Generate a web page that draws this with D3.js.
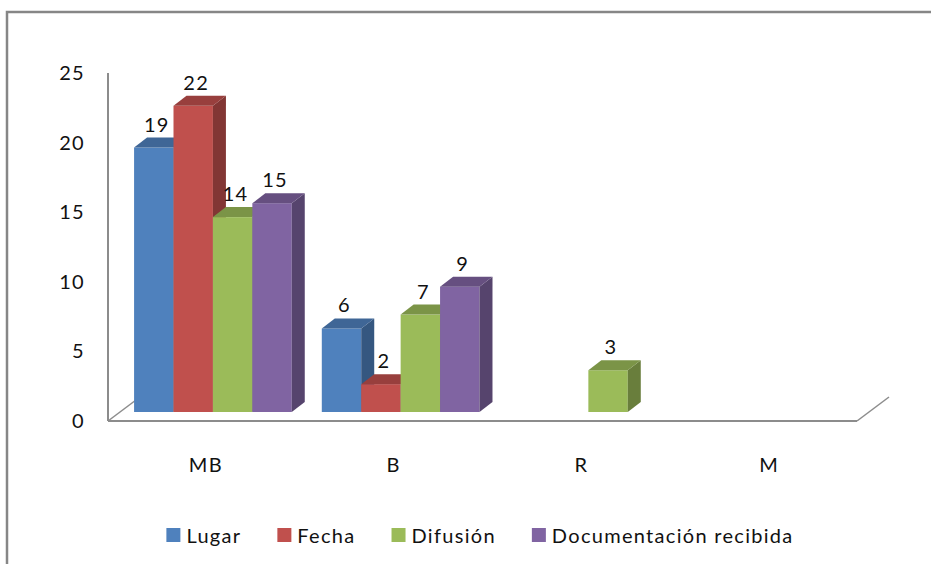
<!DOCTYPE html>
<html>
<head>
<meta charset="utf-8">
<script src="https://cdn.jsdelivr.net/npm/d3@7"></script>
<style>
body { margin: 0; background: #fff; }
text { font-family: Lato, "Open Sans", sans-serif; fill: #111; letter-spacing: 1.3px; }
</style>
</head>
<body>
<svg id="chart" width="931" height="564"></svg>
<script>
// Data
const categories = ["MB", "B", "R", "M"];
const series = ["Lugar", "Fecha", "Difusión", "Documentación recibida"];
const lugar = [19, 6, 0, 0];
const fecha = [22, 2, 0, 0];
const difusion = [14, 7, 3, 0];
const documentacion = [15, 9, 0, 0];
const yTicks = [0, 5, 10, 15, 20, 25];
const colors = ["#4F81BD", "#C0504D", "#9BBB59", "#8064A2"];

const values = [lugar, fecha, difusion, documentacion];

const svg = d3.select("#chart");

// outer frame (runs off the right and bottom edges)
svg.append("rect")
    .attr("x", 7).attr("y", 12)
    .attr("width", 1000).attr("height", 700)
    .attr("fill", "none")
    .attr("stroke", "#868686")
    .attr("stroke-width", 2.5);

// plot geometry
const floorLeft = 108, floorRight = 857;
const floorDepth = [32, -24];   // full depth of the floor
const barShift = [12, -9];      // front face of the bars sits a bit back
const barDepth = [13, -10];     // thickness of a bar

const y = d3.scaleLinear().domain([0, 25]).range([421, 73]);

const x = d3.scaleBand()
    .domain(categories)
    .range([floorLeft, floorRight])
    .paddingInner(0.16)
    .paddingOuter(0.075);

const xSub = d3.scaleBand()
    .domain(series)
    .range([0, x.bandwidth()]);

// axis lines
const axisColor = "#8c8c8c";
svg.append("line")
    .attr("x1", floorLeft).attr("x2", floorLeft)
    .attr("y1", y(25)).attr("y2", y(0))
    .attr("stroke", axisColor).attr("stroke-width", 2);

// floor: left diagonal, front edge, right diagonal
svg.append("line")
    .attr("x1", floorLeft).attr("y1", y(0))
    .attr("x2", floorLeft + floorDepth[0]).attr("y2", y(0) + floorDepth[1])
    .attr("stroke", axisColor).attr("stroke-width", 1.5);
svg.append("line")
    .attr("x1", floorRight).attr("y1", y(0))
    .attr("x2", floorRight + floorDepth[0]).attr("y2", y(0) + floorDepth[1])
    .attr("stroke", axisColor).attr("stroke-width", 1.5);
svg.append("line")
    .attr("x1", floorLeft).attr("x2", floorRight)
    .attr("y1", y(0)).attr("y2", y(0))
    .attr("stroke", axisColor).attr("stroke-width", 2);

// y tick labels
svg.selectAll(".ytick")
    .data(yTicks)
    .enter().append("text")
    .attr("class", "ytick")
    .attr("x", 85)
    .attr("y", d => y(d) + 2)
    .attr("text-anchor", "end")
    .attr("dominant-baseline", "middle")
    .attr("font-size", 20)
    .text(d => d);

// category labels
svg.selectAll(".xlab")
    .data(categories)
    .enter().append("text")
    .attr("class", "xlab")
    .attr("x", d => x(d) + x.bandwidth() / 2 + 5)
    .attr("y", 472)
    .attr("text-anchor", "middle")
    .attr("font-size", 20)
    .text(d => d);

// 3D bars, drawn left to right so later bars cover earlier side faces
const [dx, dy] = barDepth;
const bars = [];
categories.forEach((c, ci) => {
    series.forEach((s, si) => {
        const v = values[si][ci];
        if (!v) return;
        bars.push({ c, s, si, v });
    });
});

const barG = svg.append("g");
bars.forEach(b => {
    const x0 = x(b.c) + xSub(b.s) + barShift[0];
    const x1 = x0 + xSub.bandwidth();
    const yt = y(b.v) + barShift[1];
    const yb = y(0) + barShift[1];
    const base = d3.color(colors[b.si]);
    const g = barG.append("g");
    g.append("rect")
        .attr("x", x0).attr("y", yt)
        .attr("width", x1 - x0).attr("height", yb - yt)
        .attr("fill", base);
    g.append("polygon")
        .attr("points", [[x1, yt], [x1 + dx, yt + dy], [x1 + dx, yb + dy], [x1, yb]].join(" "))
        .attr("fill", base.darker(1.1));
    g.append("polygon")
        .attr("points", [[x0, yt], [x0 + dx, yt + dy], [x1 + dx, yt + dy], [x1, yt]].join(" "))
        .attr("fill", base.darker(0.65));
    g.append("text")
        .attr("x", (x0 + x1) / 2 + 3)
        .attr("y", yt + dy - 6)
        .attr("text-anchor", "middle")
        .attr("font-size", 20)
        .text(b.v);
});

// legend
const legendGap = 36;
const legend = svg.append("g");
let lx = 0;
series.forEach((s, i) => {
    const item = legend.append("g").attr("transform", `translate(${lx},0)`);
    item.append("rect")
        .attr("x", 0).attr("y", 528)
        .attr("width", 14).attr("height", 14)
        .attr("fill", colors[i]);
    const t = item.append("text")
        .attr("x", 20).attr("y", 543)
        .attr("font-size", 20)
        .text(s);
    lx += 20 + t.node().getComputedTextLength() + legendGap;
});
const legendWidth = lx - legendGap;
legend.attr("transform", `translate(${480 - legendWidth / 2},0)`);
</script>
</body>
</html>
